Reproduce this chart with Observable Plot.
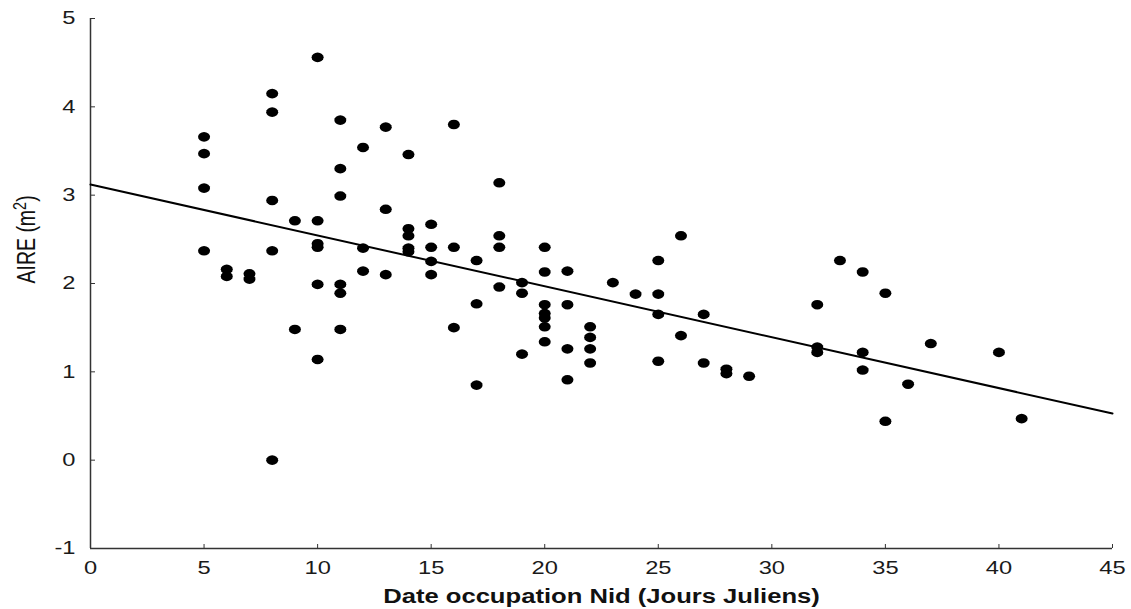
<!DOCTYPE html>
<html>
<head>
<meta charset="utf-8">
<script src="https://cdn.jsdelivr.net/npm/d3@7"></script>
<script src="https://cdn.jsdelivr.net/npm/@observablehq/plot@0.6"></script>
<style>
  html, body { margin: 0; padding: 0; background: #fff; }
  #chart svg { display: block; }
</style>
</head>
<body>
<div id="chart"></div>
<script>
// Date d'occupation du nid (jours juliens)
const dateJ = [
  5, 5, 5, 5,
  6, 6,
  7, 7,
  8, 8, 8, 8, 8,
  9, 9,
  10, 10, 10, 10, 10, 10,
  11, 11, 11, 11, 11, 11,
  12, 12, 12,
  13, 13, 13,
  14, 14, 14, 14, 14,
  15, 15, 15, 15,
  16, 16, 16,
  17, 17, 17,
  18, 18, 18, 18,
  19, 19, 19,
  20, 20, 20, 20, 20, 20, 20,
  21, 21, 21, 21,
  22, 22, 22, 22,
  23,
  24,
  25, 25, 25, 25,
  26, 26,
  27, 27,
  28, 28,
  29,
  32, 32, 32,
  33,
  34, 34, 34,
  35, 35,
  36,
  37,
  40,
  41
];
// Aire du nid (m²)
const aire = [
  3.66, 3.47, 3.08, 2.37,
  2.16, 2.08,
  2.11, 2.05,
  4.15, 3.94, 2.94, 2.37, 0.00,
  2.71, 1.48,
  4.56, 2.71, 2.45, 2.41, 1.99, 1.14,
  3.85, 3.30, 2.99, 1.99, 1.89, 1.48,
  3.54, 2.40, 2.14,
  3.77, 2.84, 2.10,
  3.46, 2.62, 2.54, 2.40, 2.36,
  2.67, 2.41, 2.25, 2.10,
  3.80, 2.41, 1.50,
  2.26, 1.77, 0.85,
  3.14, 2.54, 2.41, 1.96,
  2.01, 1.89, 1.20,
  2.41, 2.13, 1.76, 1.66, 1.61, 1.51, 1.34,
  2.14, 1.76, 1.26, 0.91,
  1.51, 1.39, 1.26, 1.10,
  2.01,
  1.88,
  2.26, 1.88, 1.65, 1.12,
  2.54, 1.41,
  1.65, 1.10,
  1.03, 0.98,
  0.95,
  1.76, 1.28, 1.22,
  2.26,
  2.13, 1.22, 1.02,
  1.89, 0.44,
  0.86,
  1.32,
  1.22,
  0.47
];
// Droite de régression
const fitIntercept = 3.12;
const fitSlope = -0.0576;
const fitRange = [0, 45];

const xTicks = [0, 5, 10, 15, 20, 25, 30, 35, 40, 45];
const yTicks = [-1, 0, 1, 2, 3, 4, 5];
const xTitle = "Date occupation Nid (Jours Juliens)";
const yTitle = "AIRE (m²)";

const points = dateJ.map((d, i) => ({x: d, y: aire[i]}));
const fitLine = fitRange.map(x => ({x, y: fitIntercept + fitSlope * x}));

// elliptical dot symbol
const ellipse = {
  draw(context, size) {
    const rx = 6, ry = 4.8, n = 16;
    for (let i = 0; i < n; i++) {
      const a = (i / n) * 2 * Math.PI;
      const px = rx * Math.cos(a), py = ry * Math.sin(a);
      if (i === 0) context.moveTo(px, py); else context.lineTo(px, py);
    }
    context.closePath();
  }
};

const font = "'Liberation Sans', Arial, sans-serif";
const fmt = d => String(d);

const chart = Plot.plot({
  width: 1131,
  height: 609,
  marginTop: 18,
  marginRight: 19,
  marginBottom: 61,
  marginLeft: 90,
  style: {fontFamily: font, fontSize: "18.5px", color: "#1a1a1a", background: "#fff"},
  x: {domain: [0, 45], ticks: xTicks},
  y: {domain: [-1, 5], ticks: yTicks},
  marks: [
    Plot.axisX({ticks: xTicks, tickFormat: fmt, tickSize: -4, tickPadding: 16, label: null, stroke: "#333", fontSize: 18.5}),
    Plot.axisY({ticks: yTicks, tickFormat: fmt, tickSize: -5, tickPadding: 20, label: null, stroke: "#333", fontSize: 18.5}),
    Plot.ruleX([0], {stroke: "#333", strokeWidth: 1.5}),
    Plot.ruleY([-1], {stroke: "#333", strokeWidth: 1.5}),
    Plot.line(fitLine, {x: "x", y: "y", stroke: "#000", strokeWidth: 2}),
    Plot.dot(points, {x: "x", y: "y", symbol: ellipse, fill: "#000", stroke: "none", r: 5}),
    Plot.text([xTitle], {frameAnchor: "bottom", dy: 54, text: d => d, fontWeight: "bold", fontSize: 20, fill: "#111"}),
    Plot.text([yTitle], {frameAnchor: "left", dx: -63, rotate: -90, text: d => d, fontSize: 19.5, fill: "#111"})
  ]
});
document.getElementById("chart").appendChild(chart);

// horizontal stretch of the labels (the reference picture is widened)
const stretch = 1.28;
chart.querySelectorAll("text").forEach(t => {
  if (t.textContent === yTitle) {
    // proper superscript for m²
    t.textContent = "";
    const ns = "http://www.w3.org/2000/svg";
    const a = document.createElementNS(ns, "tspan"); a.textContent = "AIRE (m";
    const b = document.createElementNS(ns, "tspan"); b.textContent = "2";
    b.setAttribute("font-size", "14.5"); b.setAttribute("dy", "-7.5");
    const c = document.createElementNS(ns, "tspan"); c.textContent = ")";
    c.setAttribute("dy", "7.5");
    t.append(a, b, c);
    // widen the glyph thickness (screen x for rotated text)
    const tr = t.getAttribute("transform") || "";
    t.setAttribute("transform", tr + " scale(1," + stretch + ")");
    return;
  }
  const w = t.getComputedTextLength();
  if (w > 0) {
    t.setAttribute("textLength", (w * stretch).toFixed(2));
    t.setAttribute("lengthAdjust", "spacingAndGlyphs");
  }
});
</script>
</body>
</html>
